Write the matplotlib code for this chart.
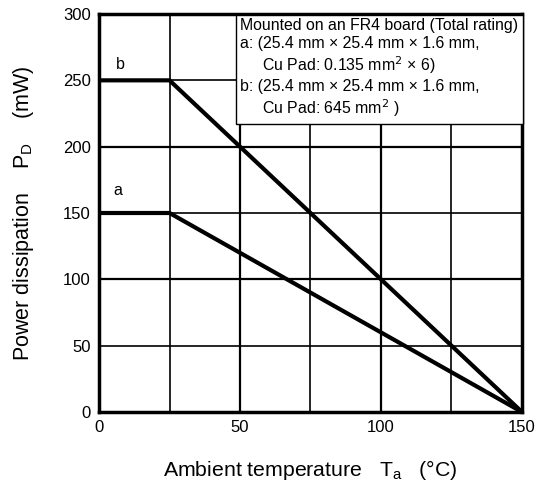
import matplotlib.pyplot as plt

plt.rcParams['font.family'] = ['Liberation Sans', 'DejaVu Sans']

temp_a = [0, 25, 150]
power_a = [150, 150, 0]
temp_b = [0, 25, 150]
power_b = [250, 250, 0]
x_ticks = [0, 50, 100, 150]
y_ticks = [0, 50, 100, 150, 200, 250, 300]

fig = plt.figure(figsize=(5.37, 4.93), dpi=100)
ax = fig.add_axes([0.1844, 0.1643, 0.7876, 0.8073])

# grid
for x in [25, 50, 75, 100, 125]:
    ax.axvline(x, color="black", lw=1.6 if x % 50 == 0 else 1.2, zorder=1)
for y in [50, 100, 150, 200, 250]:
    ax.axhline(y, color="black", lw=1.6 if y % 100 == 0 else 1.2, zorder=1)

ax.plot(temp_a, power_a, color="black", lw=3, solid_capstyle="butt", zorder=3)
ax.plot(temp_b, power_b, color="black", lw=3, solid_capstyle="butt", zorder=3)

ax.text(6.5, 167, "a", fontsize=11.5, ha="center", va="center")
ax.text(7.5, 262, "b", fontsize=11.5, ha="center", va="center")

ax.set_xlim(0, 150)
ax.set_ylim(0, 300)
ax.set_xticks(x_ticks)
ax.set_yticks(y_ticks)
ax.tick_params(length=0, labelsize=12, pad=6)
for s in ax.spines.values():
    s.set_linewidth(2.5)

note = ("Mounted on an FR4 board (Total rating)\n"
        "a: (25.4 mm \u00d7 25.4 mm \u00d7 1.6 mm,\n"
        "     Cu Pad: 0.135 mm$^2$ \u00d7 6)\n"
        "b: (25.4 mm \u00d7 25.4 mm \u00d7 1.6 mm,\n"
        "     Cu Pad: 645 mm$^2$ )")
ax.text(0.334, 0.99, note, transform=ax.transAxes, fontsize=11.4, ha="left", va="top",
        linespacing=1.22, zorder=5, clip_on=False,
        bbox=dict(boxstyle="square,pad=0.3", fc="white", ec="black", lw=1))

ax.set_xlabel("Ambient temperature   T$_\\mathregular{a}$   (\u00b0C)", fontsize=15.3, labelpad=16)
ax.set_ylabel("Power dissipation    P$_\\mathregular{D}$    (mW)", fontsize=15.5, labelpad=19)

fig.savefig("out.png", dpi=100)
